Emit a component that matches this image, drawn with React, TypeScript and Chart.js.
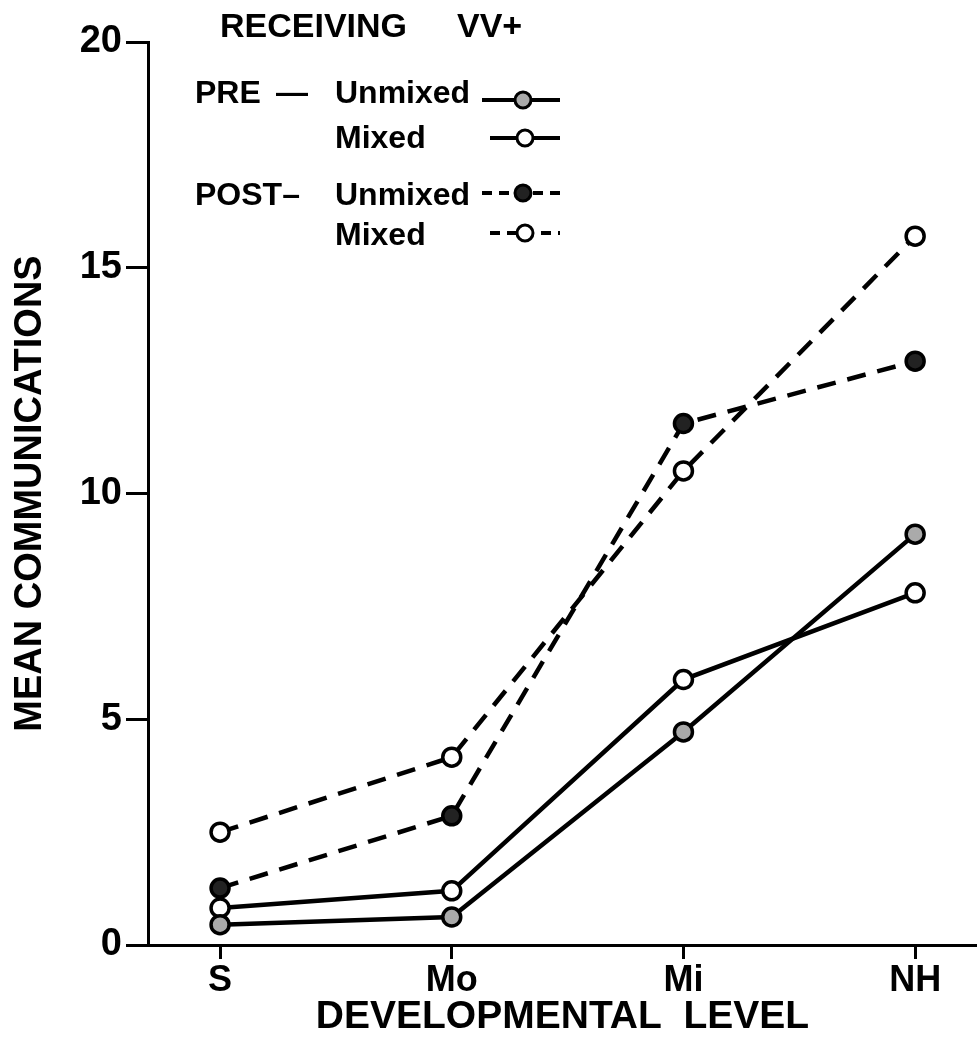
import React, { useEffect, useRef } from "react";
import { Chart, registerables } from "chart.js";

Chart.register(...registerables);

const categories = ["S", "Mo", "Mi", "NH"];
const yTicks = [0, 5, 10, 15, 20];
const preUnmixed = [0.45, 0.62, 4.72, 9.1];
const preMixed = [0.82, 1.2, 5.88, 7.8];
const postUnmixed = [1.26, 2.86, 11.55, 12.93];
const postMixed = [2.5, 4.16, 10.5, 15.7];

const chartTitle = "RECEIVING  VV+";
const xTitle = "DEVELOPMENTAL  LEVEL";
const yTitle = "MEAN COMMUNICATIONS";

const FONT = '"Liberation Sans", "DejaVu Sans", sans-serif';

const toPoints = (arr: number[]) => arr.map((v, i) => ({ x: i, y: v }));

const legendPlugin = {
  id: "customLegend",
  afterDraw(chart: any) {
    const ctx = chart.ctx as CanvasRenderingContext2D;
    ctx.save();
    ctx.fillStyle = "#000";
    ctx.strokeStyle = "#000";
    ctx.textBaseline = "alphabetic";
    ctx.textAlign = "left";
    ctx.font = `bold 34px ${FONT}`;
    ctx.fillText("RECEIVING", 220, 37);
    ctx.fillText("VV+", 457, 37);

    ctx.font = `bold 32px ${FONT}`;
    ctx.fillText("PRE", 195, 103);
    ctx.fillText("—", 276, 103);
    ctx.fillText("Unmixed", 335, 103);
    ctx.fillText("Mixed", 335, 148);
    ctx.fillText("POST–", 195, 205);
    ctx.fillText("Unmixed", 335, 205);
    ctx.fillText("Mixed", 335, 245);

    const sample = (x1: number, x2: number, cx: number, y: number, dashed: boolean, fill: string) => {
      ctx.save();
      ctx.lineWidth = 4;
      ctx.setLineDash(dashed ? [10, 7] : []);
      ctx.beginPath();
      ctx.moveTo(x1, y);
      ctx.lineTo(x2, y);
      ctx.stroke();
      ctx.setLineDash([]);
      ctx.beginPath();
      ctx.arc(cx, y, 8, 0, Math.PI * 2);
      ctx.fillStyle = fill;
      ctx.fill();
      ctx.lineWidth = 3;
      ctx.stroke();
      ctx.restore();
    };
    const ds = chart.data.datasets;
    sample(482, 560, 523, 100, false, ds[0].pointBackgroundColor);
    sample(490, 560, 525, 138, false, ds[1].pointBackgroundColor);
    sample(482, 560, 523, 193, true, ds[2].pointBackgroundColor);
    sample(490, 560, 525, 233, true, ds[3].pointBackgroundColor);
    ctx.restore();
  },
};

export default function App() {
  const ref = useRef<HTMLCanvasElement | null>(null);

  useEffect(() => {
    document.body.style.margin = "0";
    document.body.style.background = "#fff";
    const canvas = ref.current!;
    const common = {
      borderColor: "#000",
      borderWidth: 4.5,
      pointRadius: 9,
      pointBorderWidth: 3.5,
      pointBorderColor: "#000",
      pointHoverRadius: 9,
      tension: 0,
      fill: false,
      clip: false,
    };
    const chart = new Chart(canvas, {
      type: "line",
      data: {
        datasets: [
          { ...common, label: "PRE - Unmixed", data: toPoints(preUnmixed), pointBackgroundColor: "#aaa" },
          { ...common, label: "PRE - Mixed", data: toPoints(preMixed), pointBackgroundColor: "#fff" },
          { ...common, label: "POST - Unmixed", data: toPoints(postUnmixed), pointBackgroundColor: "#222", borderDash: [19, 12] },
          { ...common, label: "POST - Mixed", data: toPoints(postMixed), pointBackgroundColor: "#fff", borderDash: [19, 12] },
        ],
      },
      options: {
        responsive: false,
        animation: false,
        devicePixelRatio: 1,
        layout: { autoPadding: false, padding: { top: 42, right: 0, left: 0, bottom: 0 } },
        plugins: { legend: { display: false }, tooltip: { enabled: false }, title: { display: false } },
        scales: {
          x: {
            type: "linear",
            min: -0.311,
            max: 3.267,
            afterBuildTicks: (scale: any) => {
              scale.ticks = categories.map((_, i) => ({ value: i }));
            },
            afterFit: (scale: any) => {
              scale.height = 104;
              scale.paddingLeft = 0;
              scale.paddingRight = 0;
            },
            ticks: {
              callback: (v: any) => categories[v] ?? "",
              color: "#000",
              font: { family: FONT, size: 36, weight: "bold" },
              padding: 0,
              maxRotation: 0,
              autoSkip: false,
            },
            grid: { drawOnChartArea: false, drawTicks: true, tickLength: 14, color: "#000", lineWidth: 3 },
            border: { display: true, color: "#000", width: 3 },
            title: {
              display: true,
              text: xTitle,
              color: "#000",
              font: { family: FONT, size: 39, weight: "bold" },
              padding: { top: 0, bottom: 8 },
            },
          },
          y: {
            type: "linear",
            min: 0,
            max: 20,
            afterBuildTicks: (scale: any) => {
              scale.ticks = yTicks.map((v) => ({ value: v }));
            },
            afterFit: (scale: any) => {
              scale.width = 148;
            },
            ticks: {
              color: "#000",
              font: { family: FONT, size: 38, weight: "bold" },
              padding: 4,
            },
            grid: { drawOnChartArea: false, drawTicks: true, tickLength: 22, color: "#000", lineWidth: 3 },
            border: { display: true, color: "#000", width: 3 },
            title: {
              display: true,
              text: yTitle,
              color: "#000",
              font: { family: FONT, size: 38, weight: "bold" },
              padding: { top: 8, bottom: 0 },
            },
          },
        },
      },
      plugins: [legendPlugin],
    } as any);
    return () => chart.destroy();
  }, []);

  return (
    <div style={{ width: 977, height: 1049, overflow: "hidden", background: "#fff" }}>
      <canvas ref={ref} width={977} height={1049} style={{ display: "block" }} aria-label={chartTitle} />
    </div>
  );
}
